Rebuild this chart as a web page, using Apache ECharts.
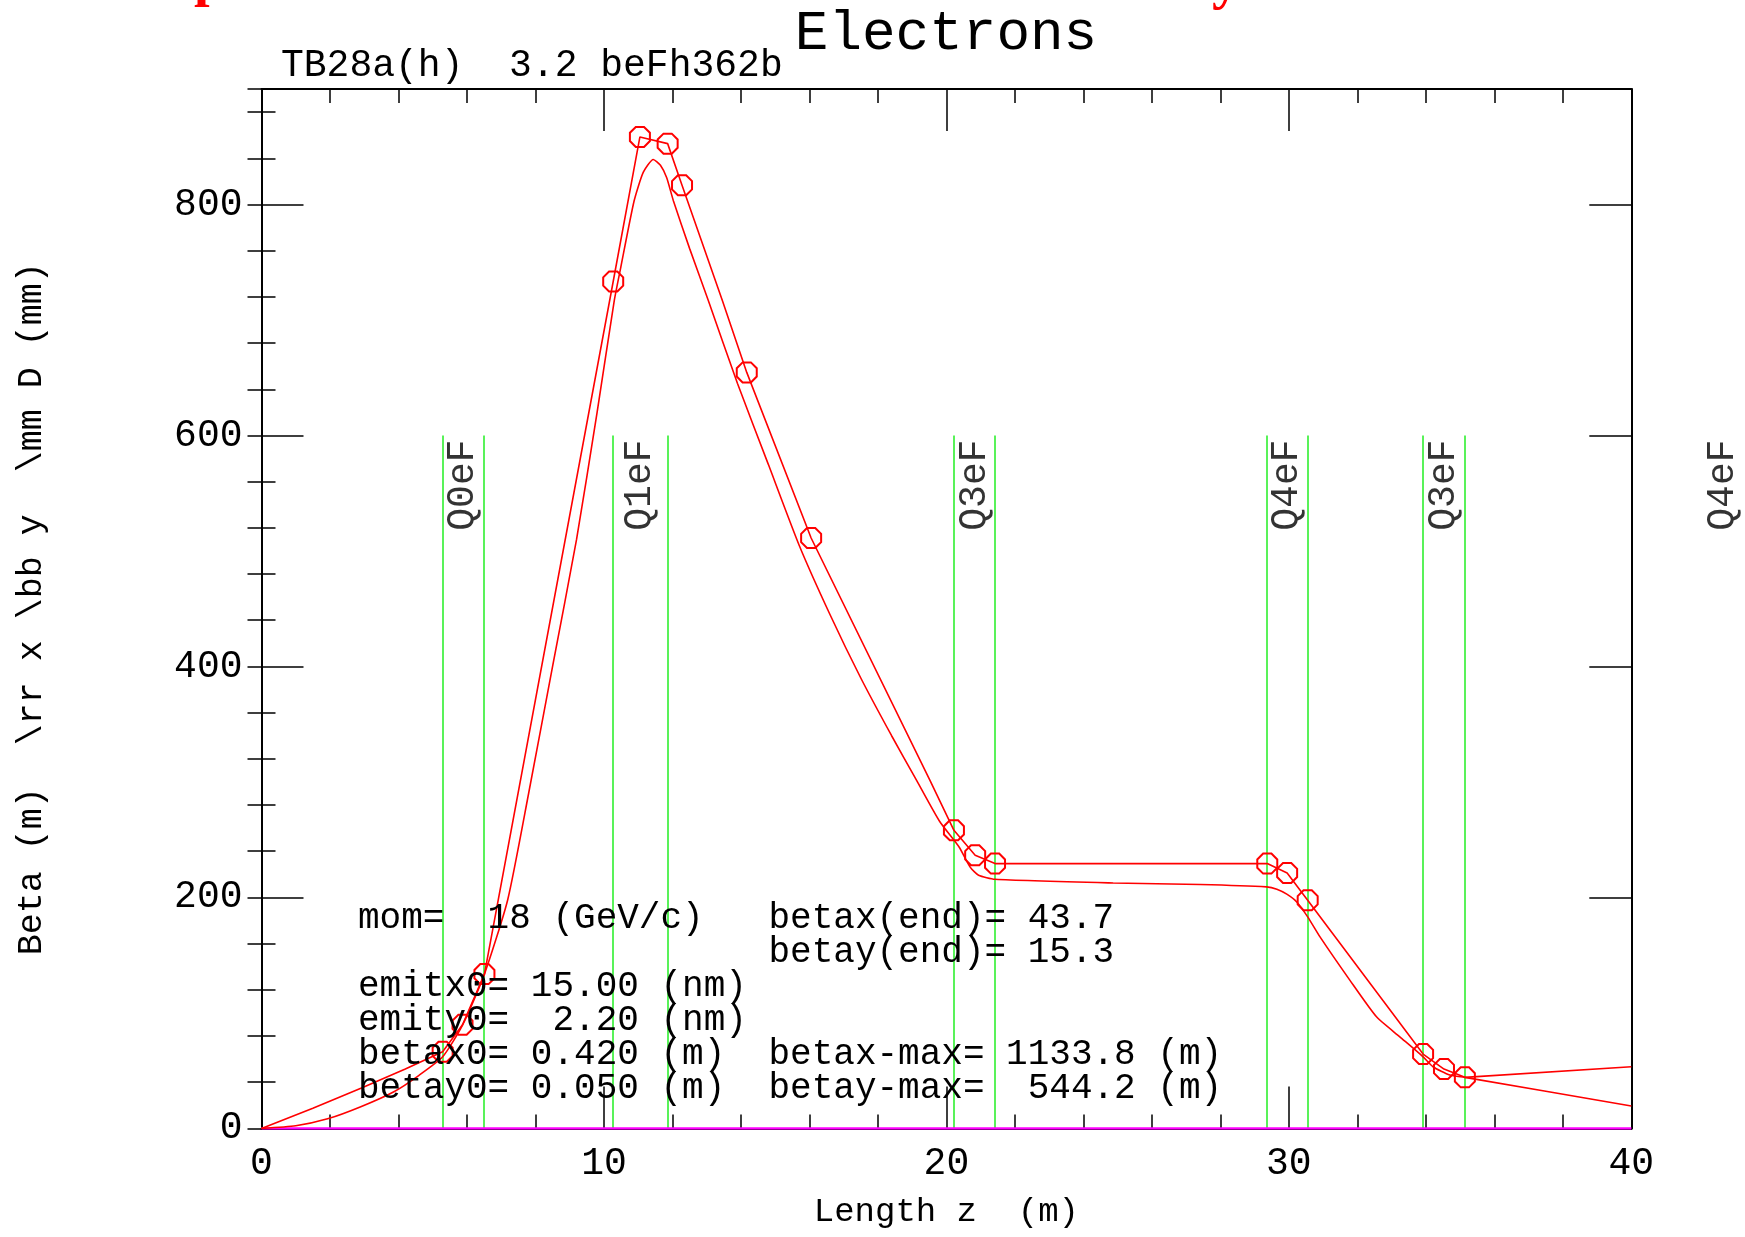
<!DOCTYPE html>
<html>
<head>
<meta charset="utf-8">
<title>Electrons</title>
<script src="https://cdn.jsdelivr.net/npm/echarts@6/dist/echarts.min.js"></script>
<style>
  html, body { margin: 0; padding: 0; background: #ffffff; }
  #chart { width: 1745px; height: 1237px; }
</style>
</head>
<body>
<div id="chart"></div>
<script>
// ---- axis ranges and ticks ----
const zRange = [0, 40];
const zMajor = 10;
const betaRange = [0, 900];
const betaMajor = 200;
const betaMinor = 40;

// ---- beta curve through the element edges (m) : [z, beta] ----
const betaX = [
  [0, 0], [1.5, 17.5], [2.92, 34.9], [4.2, 51.5], [5.29, 66.4], [5.87, 89.7],
  [6.51, 133.6], [10.27, 733.3], [11.05, 858.5], [11.86, 852.7], [12.28, 816.7],
  [13.46, 716.6], [14.17, 654.6], [16.05, 511.2], [19.52, 301.4], [20.22, 258.1],
  [20.84, 236.5], [21.42, 229.3], [29.37, 229.3], [29.95, 221.2], [30.55, 197.6],
  [33.92, 64.4], [34.53, 51.4], [35.14, 44.2], [40, 53.4]
];
// element edges where the curve is marked
const markerZ = [5.29, 5.87, 6.51, 10.27, 11.05, 11.86, 12.28, 14.17, 16.05,
  20.22, 20.84, 21.42, 29.37, 29.95, 30.55, 33.92, 34.53, 35.14];

// ---- second beta curve (m) : [z, beta] ----
const betaY = [
  [0, 0], [1, 2.3], [1.93, 8.3], [2.9, 18.8], [3.88, 32], [4.6, 46], [5.29, 62],
  [5.87, 89.4], [6.51, 133.6], [7.19, 198], [7.8, 290], [8.5, 400], [9.2, 510],
  [9.8, 620], [10.3, 716.6], [10.49, 745.4], [10.88, 803], [11.15, 828],
  [11.44, 839], [11.65, 834], [11.83, 823.3], [12.03, 803], [12.5, 762],
  [13.05, 716.6], [13.9, 645], [14.8, 575], [15.7, 505], [16.6, 445], [17.5, 390],
  [18.4, 340], [19.13, 301.4], [19.8, 266], [20.37, 243.7], [20.7, 226],
  [20.94, 219.2], [21.42, 215.7], [24.87, 212.5], [27.41, 211.2], [29.35, 209.1],
  [29.65, 207.1], [29.94, 202.8], [30.23, 196.1], [30.55, 183.2], [30.91, 165.8],
  [31.78, 128.4], [32.56, 96.6], [33.24, 79.3], [33.92, 62.0], [34.21, 53.4],
  [34.7, 46.2], [35.14, 44.2], [40, 19.4]
];

// ---- dispersion (mm) ----
const dispersion = [[0, 0], [40, 0]];

// ---- quadrupoles ----
const magnetNames = ['Q0eF', 'Q1eF', 'Q3eF', 'Q4eF', 'Q3eF', 'Q4eF'];
const magnetStart = [5.29, 10.25, 20.22, 29.35, 33.91, 42.06];
const magnetEnd   = [6.50, 11.86, 21.42, 30.56, 35.13, 43.27];
const magnetTop = 600;

// ---- text ----
const titleText = 'Electrons';
const runText = 'TB28a(h)  3.2 beFh362b';
const xName = 'Length z  (m)';
const yName = 'Beta (m)  \\rr x \\bb y  \\mm D (mm)';
const infoLines = [
  'mom=  18 (GeV/c)   betax(end)= 43.7',
  '                   betay(end)= 15.3',
  'emitx0= 15.00 (nm)',
  'emity0=  2.20 (nm)',
  'betax0= 0.420 (m)  betax-max= 1133.8 (m)',
  'betay0= 0.050 (m)  betay-max=  544.2 (m)'
];
// heading line above the page, only its descenders fall inside
const headingGlyphs = ['p', 'y'];

const MONO = '"Liberation Mono", "DejaVu Sans Mono", monospace';
const BLACK = '#000000';
const RED = '#ff0000';
const GREEN = '#22ee22';
const OCTAGON = 'path://M29.3,0 L70.7,0 L100,29.3 L100,70.7 L70.7,100 L29.3,100 L0,70.7 L0,29.3 Z';

const GRID = { left: 261.5, right: 113.7, top: 89, bottom: 108.6 };

function frameAxis(extra) {
  return Object.assign({
    type: 'value',
    axisLine: { show: true, onZero: false, lineStyle: { color: BLACK, width: 2 } },
    axisTick: { show: true, inside: true, length: 42, lineStyle: { color: BLACK, width: 1.5 } },
    splitLine: { show: false },
    minorSplitLine: { show: false },
    axisLabel: { show: false }
  }, extra);
}

const labelStyle = { fontFamily: MONO, fontSize: 38, color: BLACK };

const xAxes = [
  frameAxis({
    min: zRange[0], max: zRange[1], interval: zMajor, position: 'bottom',
    minorTick: { show: true, splitNumber: 5, length: 14, lineStyle: { color: BLACK, width: 1.5 } },
    axisLabel: Object.assign({ show: true, margin: 17 }, labelStyle),
    name: xName, nameLocation: 'middle', nameGap: 67,
    nameTextStyle: { fontFamily: MONO, fontSize: 34, color: BLACK }
  }),
  frameAxis({
    min: zRange[0], max: zRange[1], interval: zMajor, position: 'top',
    minorTick: { show: true, splitNumber: 5, length: 14, lineStyle: { color: BLACK, width: 1.5 } }
  })
];

const yAxes = [
  frameAxis({
    min: betaRange[0], max: betaRange[1], interval: betaMajor, position: 'left',
    axisLabel: Object.assign({ show: true, margin: 19, showMaxLabel: false }, labelStyle),
    name: yName, nameLocation: 'middle', nameRotate: 90, nameGap: 212,
    nameTextStyle: { fontFamily: MONO, fontSize: 35, color: BLACK }
  }),
  frameAxis({
    min: betaRange[0], max: betaRange[1], interval: betaMinor, position: 'left',
    axisLine: { show: false },
    axisTick: { show: true, inside: true, length: 14, lineStyle: { color: BLACK, width: 1.5 } }
  }),
  frameAxis({
    min: betaRange[0], max: betaRange[1], interval: betaMajor, position: 'right'
  }),
  frameAxis({
    min: betaRange[0], max: betaRange[1], interval: betaMinor, position: 'right',
    axisLine: { show: false },
    axisTick: { show: true, inside: true, length: 14, lineStyle: { color: BLACK, width: 1.5 } }
  })
];

// magnet edges inside the plotted z range
const magnetEdges = [];
magnetStart.forEach((z0, i) => {
  [z0, magnetEnd[i]].forEach(z => {
    if (z >= zRange[0] && z <= zRange[1]) magnetEdges.push(z);
  });
});

const markerSet = new Set(markerZ.map(z => z.toFixed(2)));

const series = [
  {
    name: 'quadrupoles', type: 'line', data: [], silent: true, z: 2,
    markLine: {
      silent: true, symbol: ['none', 'none'], animation: false,
      label: { show: false },
      lineStyle: { color: GREEN, width: 1.5, type: 'solid' },
      emphasis: { disabled: true },
      data: magnetEdges.map(z => [{ coord: [z, 0] }, { coord: [z, magnetTop] }])
    }
  },
  {
    name: 'quadrupole names', type: 'scatter', clip: false, silent: true, z: 4,
    symbolSize: 1, itemStyle: { color: 'rgba(0,0,0,0)' },
    data: magnetNames.map((n, i) => ({ name: n, value: [(magnetStart[i] + magnetEnd[i]) / 2, magnetTop] })),
    label: {
      show: true, formatter: '{b}', position: 'inside', rotate: 90,
      align: 'right', verticalAlign: 'middle', padding: [0, 4, 0, 0],
      fontFamily: MONO, fontSize: 38, color: BLACK
    }
  },
  {
    name: 'D', type: 'line', data: dispersion, symbol: 'none', silent: true, z: 5,
    lineStyle: { color: '#ff00ff', width: 2.5 }
  },
  {
    name: 'beta y', type: 'line', data: betaY, symbol: 'none', smooth: 0.2, silent: true, z: 6,
    lineStyle: { color: RED, width: 1.6 }
  },
  {
    name: 'beta x', type: 'line', silent: true, z: 7,
    data: betaX.map(p => ({
      value: p,
      symbol: markerSet.has(p[0].toFixed(2)) ? OCTAGON : 'none'
    })),
    symbolSize: 20, showSymbol: true, showAllSymbol: true,
    itemStyle: { color: 'rgba(0,0,0,0)', borderColor: RED, borderWidth: 2 },
    lineStyle: { color: RED, width: 1.6 }
  }
];

// text blocks
const infoX = 358;
const infoY0 = 918;
const infoStep = 34;
const headingFont = { fontFamily: '"Liberation Serif", serif', fontWeight: 'bold', fontSize: 56, fill: RED,
  verticalAlign: 'bottom', textVerticalAlign: 'bottom' };
const graphics = [
  { type: 'text', silent: true, style: { text: titleText, x: 946, y: 34, fontFamily: MONO, fontSize: 56,
      fill: BLACK, align: 'center', textAlign: 'center', verticalAlign: 'middle', textVerticalAlign: 'middle' } },
  { type: 'text', silent: true, style: { text: runText, x: 281, y: 66, fontFamily: MONO, fontSize: 38,
      fill: BLACK, align: 'left', textAlign: 'left', verticalAlign: 'middle', textVerticalAlign: 'middle' } },
  { type: 'text', silent: true, style: Object.assign({ text: headingGlyphs[0], x: 194, y: 9 }, headingFont) },
  { type: 'text', silent: true, style: Object.assign({ text: headingGlyphs[1], x: 1212, y: 12 }, headingFont) }
];
infoLines.forEach((line, i) => {
  graphics.push({
    type: 'text', silent: true, z: 10,
    style: { text: line, x: infoX, y: infoY0 + i * infoStep, fontFamily: MONO, fontSize: 36, fill: BLACK,
      align: 'left', textAlign: 'left', verticalAlign: 'middle', textVerticalAlign: 'middle' }
  });
});

const chart = echarts.init(document.getElementById('chart'), null, { renderer: 'canvas' });
chart.setOption({
  backgroundColor: '#ffffff',
  animation: false,
  grid: Object.assign({ containLabel: false, outerBoundsMode: 'none' }, GRID),
  xAxis: xAxes,
  yAxis: yAxes,
  series: series,
  graphic: graphics
});
</script>
</body>
</html>
